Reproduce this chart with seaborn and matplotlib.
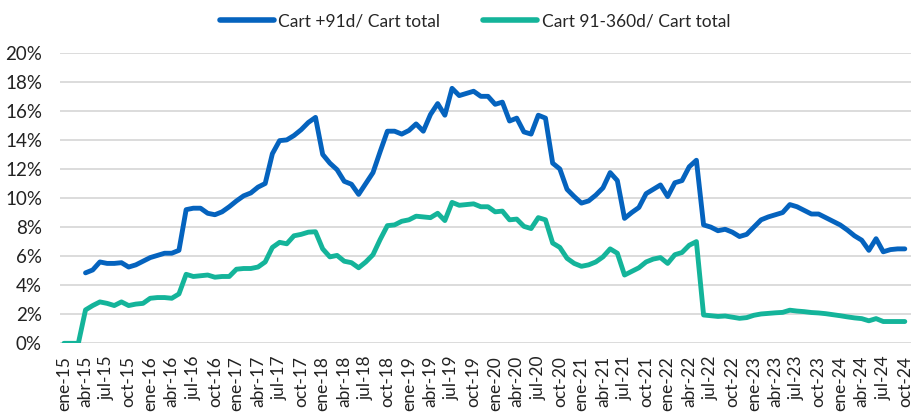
import matplotlib
matplotlib.use("Agg")
import matplotlib.pyplot as plt
import numpy as np
import pandas as pd
import seaborn as sns

# monthly series, ene-15 .. oct-24 (values in %)
month_names = ["ene", "feb", "mar", "abr", "may", "jun", "jul", "ago", "sep", "oct", "nov", "dic"]
years = list(range(15, 25))
months = [f"{mn}-{y}" for y in years for mn in month_names][:118]

cart_91 = [np.nan, np.nan, np.nan,
           4.85, 5.05, 5.6, 5.5, 5.5, 5.55, 5.25, 5.4, 5.65,
           5.9, 6.05, 6.2, 6.2, 6.4, 9.2, 9.3, 9.3, 8.95, 8.85, 9.05, 9.4,
           9.8, 10.15, 10.35, 10.75, 11.0, 13.05, 13.95, 14.0, 14.3, 14.7, 15.2, 15.55,
           13.0, 12.4, 11.95, 11.15, 10.95, 10.25, 11.0, 11.75, 13.2, 14.6, 14.6, 14.4,
           14.65, 15.1, 14.6, 15.75, 16.5, 15.7, 17.55, 17.05, 17.2, 17.35, 17.0, 17.0,
           16.45, 16.6, 15.3, 15.5, 14.55, 14.4, 15.7, 15.5, 12.4, 12.0, 10.6, 10.1,
           9.65, 9.8, 10.2, 10.7, 11.75, 11.2, 8.6, 9.0, 9.35, 10.3, 10.6, 10.9,
           10.1, 11.05, 11.2, 12.15, 12.6, 8.15, 8.0, 7.75, 7.85, 7.65, 7.35, 7.5,
           8.0, 8.5, 8.7, 8.85, 9.0, 9.55, 9.4, 9.15, 8.9, 8.9, 8.65, 8.4,
           8.15, 7.8, 7.4, 7.1, 6.4, 7.2, 6.3, 6.45, 6.5, 6.5]

cart_91_360 = [0, 0, 0, 2.3, 2.6, 2.85, 2.75, 2.6, 2.85, 2.6, 2.7, 2.75,
               3.1, 3.15, 3.15, 3.1, 3.4, 4.75, 4.6, 4.65, 4.7, 4.55, 4.6, 4.6,
               5.1, 5.15, 5.15, 5.25, 5.6, 6.6, 6.95, 6.85, 7.4, 7.5, 7.65, 7.68,
               6.5, 5.95, 6.05, 5.65, 5.55, 5.2, 5.6, 6.1, 7.15, 8.1, 8.15, 8.4,
               8.5, 8.75, 8.7, 8.65, 8.95, 8.45, 9.7, 9.5, 9.55, 9.6, 9.4, 9.4,
               9.05, 9.1, 8.5, 8.55, 8.05, 7.9, 8.65, 8.5, 6.9, 6.6, 5.85, 5.5,
               5.3, 5.4, 5.6, 5.95, 6.5, 6.2, 4.7, 4.95, 5.2, 5.6, 5.8, 5.9,
               5.5, 6.1, 6.25, 6.75, 7.0, 1.95, 1.9, 1.85, 1.88, 1.8, 1.72, 1.77,
               1.93, 2.02, 2.06, 2.1, 2.13, 2.28, 2.22, 2.18, 2.12, 2.09, 2.04, 1.97,
               1.9, 1.82, 1.75, 1.7, 1.55, 1.7, 1.5, 1.5, 1.5, 1.5]

series_names = ["Cart +91d/ Cart total", "Cart 91-360d/ Cart total"]
colors = ["#0563BE", "#14B49A"]

df = pd.DataFrame({"idx": np.arange(len(months)),
                   series_names[0]: np.array(cart_91) / 100,
                   series_names[1]: np.array(cart_91_360) / 100})
long = df.melt(id_vars="idx", var_name="serie", value_name="valor")

sns.set_theme(style="white")
plt.rcParams["font.family"] = ["Lato", "DejaVu Sans"]

fig = plt.figure(figsize=(9.12, 4.12), dpi=100)
ax = fig.add_axes([0.0658, 0.1667, 0.9342, 0.7053])

sns.lineplot(data=long, x="idx", y="valor", hue="serie", palette=colors,
             linewidth=3.5, ax=ax, solid_capstyle="round", solid_joinstyle="round")

ax.set_ylim(0, 0.20)
ax.set_xlim(-0.55, 118.0)
yt = np.arange(0, 0.201, 0.02)
ax.set_yticks(yt)
ax.set_yticklabels([f"{int(round(v * 100))}%" for v in yt], fontsize=13.5)
ax.set_xticks(np.arange(0, len(months), 3))
ax.set_xticklabels(months[::3], rotation=90, fontsize=12.5)
ax.tick_params(axis="y", length=0, pad=13, colors="#222222")
ax.tick_params(axis="x", length=0, pad=9, colors="#222222")
ax.grid(axis="y", color="#d9d9d9", linewidth=1.3)
ax.set_axisbelow(True)
for s in ax.spines.values():
    s.set_visible(False)
ax.set_xlabel("")
ax.set_ylabel("")

leg = ax.legend(loc="upper center", bbox_to_anchor=(0.487, 1.19), ncol=2, frameon=False,
                fontsize=12.5, handlelength=3.1, handletextpad=0.25, columnspacing=2.5)
for line in leg.get_lines():
    line.set_linewidth(4)
    line.set_solid_capstyle("round")

fig.savefig("out.png", dpi=100)
